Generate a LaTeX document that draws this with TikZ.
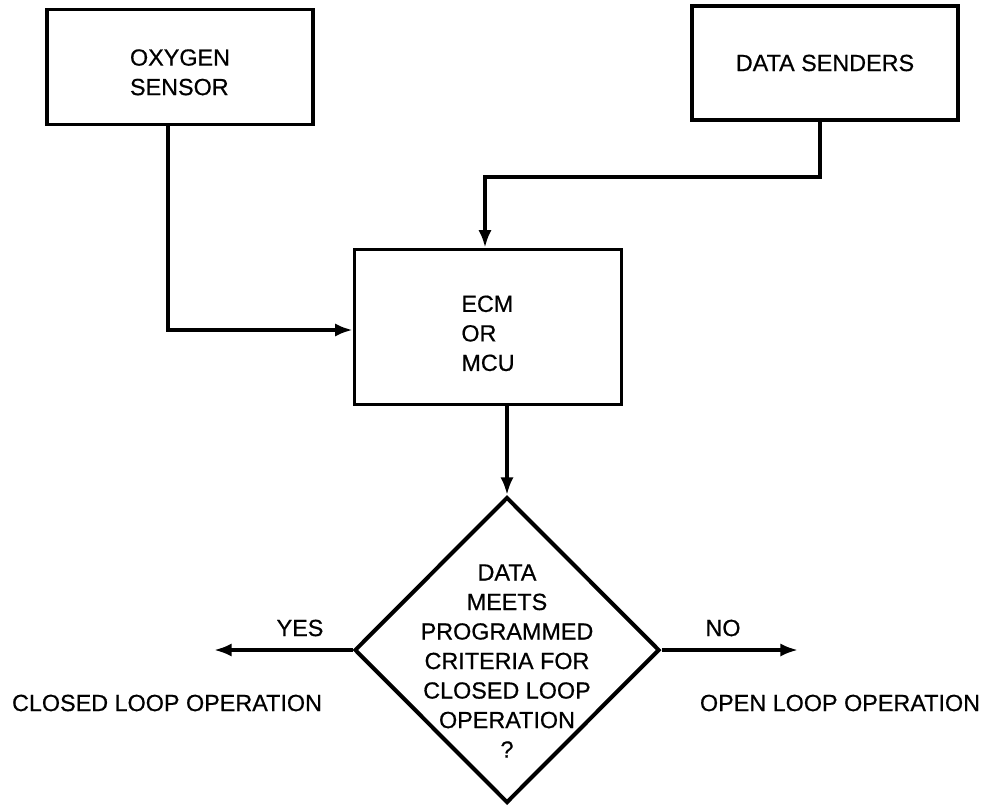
\documentclass[tikz,border=0pt]{standalone}
\usepackage{fontspec}
\setmainfont{Liberation Sans}[FakeBold=0.6]
\usetikzlibrary{shapes.geometric,arrows.meta}
\tikzset{
  block/.style={draw,line width=2.1pt,minimum width=5.32cm,minimum height=2.3cm,align=left},
  decision/.style={draw,diamond,line width=2.3pt,minimum width=6.1cm,minimum height=6.12cm,inner sep=0pt},
  flow/.style={line width=2.1pt,-{Latex[length=10pt,width=7.5pt]}},
  txt/.style={font=\fontsize{13.3}{16.8}\selectfont}
}
\begin{document}
\begin{tikzpicture}[x=0.02cm,y=-0.02cm,every node/.style={txt}]
\useasboundingbox (0,0) rectangle (983,808);
% Blocks
    \node[block,text height=32pt,text depth=0pt] (oxy) at (180,67) {OXYGEN\\SENSOR};
    \node[block,minimum height=2.28cm] (ds) at (825,63) {DATA SENDERS};
    \node[block,minimum width=5.34cm,minimum height=3.1cm,text height=50pt,text depth=0pt] (ecm) at (488,327) {ECM\\OR\\MCU};
% Decision
    \node[decision] (dec) at (507,650) {};
    \node[align=center] (dectext) at (507,661) {DATA\\MEETS\\PROGRAMMED\\CRITERIA FOR\\CLOSED LOOP\\OPERATION\\?};
% Outcomes
    \coordinate (yesend) at (214,650);
    \coordinate (noend) at (798,650);
    \node (yes) at (300,628) {YES};
    \node (no) at (723,628) {NO};
    \node (closed) at (167,703) {CLOSED LOOP OPERATION};
    \node (open) at (840,703) {OPEN LOOP OPERATION};
% Connectors
    \draw[flow] ([xshift=-0.24cm]oxy.south) |- ([yshift=-0.06cm]ecm.west);
    \draw[flow] ([xshift=-0.1cm]ds.south) -- ++(0,55) -| ([xshift=-0.06cm]ecm.north);
    \draw[flow] (ecm.south -| dec.north) -- (dec.north);
    \draw[flow] (dec.west) -- (yesend);
    \draw[flow] (dec.east) -- (noend);
\end{tikzpicture}
\end{document}
